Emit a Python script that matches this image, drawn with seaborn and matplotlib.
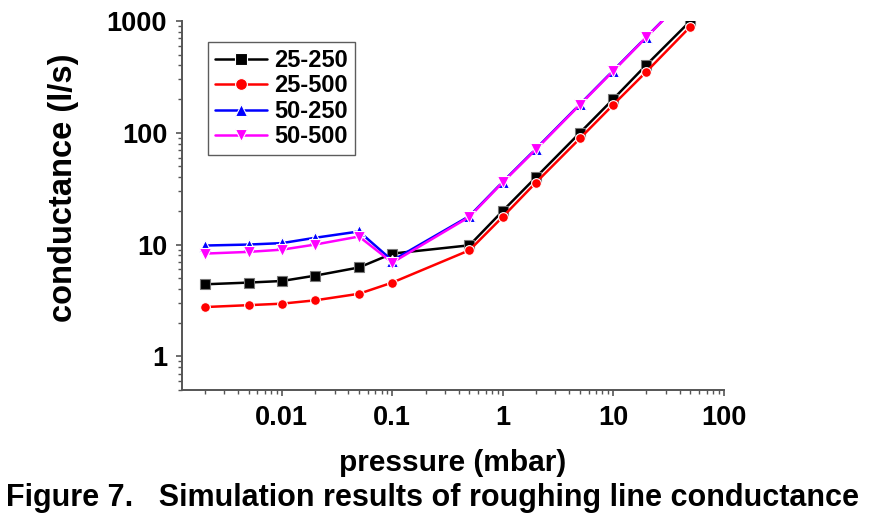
import numpy as np
import pandas as pd
import matplotlib
matplotlib.use("Agg")
import matplotlib.pyplot as plt
import seaborn as sns
from matplotlib.ticker import LogLocator, NullFormatter, FixedLocator, FixedFormatter

# data
pressure = [0.002, 0.005, 0.01, 0.02, 0.05, 0.1, 0.5, 1, 2, 5, 10, 20, 50]
c_25_250 = [4.41, 4.57, 4.72, 5.27, 6.24, 8.3, 9.85, 20.0, 40.0, 100, 200, 405, 1000]
c_25_500 = [2.76, 2.87, 2.96, 3.17, 3.63, 4.57, 8.9, 17.7, 35.9, 89, 178, 352, 890]
c_50_250 = [9.8, 10.0, 10.3, 11.5, 13.1, 7.2, 18.0, 36.4, 72, 180, 360, 720, 1800]
c_50_500 = [8.3, 8.6, 9.0, 10.0, 11.8, 6.9, 17.7, 36.0, 71, 178, 356, 715, 1790]
series = ["25-250", "25-500", "50-250", "50-500"]

df = pd.concat([
    pd.DataFrame({"pressure": pressure, "conductance": vals, "run": name})
    for name, vals in zip(series, [c_25_250, c_25_500, c_50_250, c_50_500])
])

sns.set_style("white")
plt.rcParams["font.family"] = ["Liberation Sans", "DejaVu Sans"]
plt.rcParams["font.weight"] = "bold"
plt.rcParams["text.color"] = "black"
plt.rcParams["axes.labelcolor"] = "black"
plt.rcParams["xtick.labelcolor"] = "black"
plt.rcParams["ytick.labelcolor"] = "black"

fig = plt.figure(figsize=(8.83, 5.18), dpi=100)
ax = fig.add_axes([0.2058, 0.2471, 0.6137, 0.7124])

colors = {"25-250": "black", "25-500": "#ff0000", "50-250": "#0000ff", "50-500": "#ff00ff"}
markers = {"25-250": "s", "25-500": "o", "50-250": "^", "50-500": "v"}
msizes = {"25-250": 6.5, "25-500": 7, "50-250": 8.2, "50-500": 8.2}

sns.lineplot(data=df, x="pressure", y="conductance", hue="run", style="run",
             palette=colors, markers=markers, dashes=False, markersize=6,
             linewidth=1.8, markeredgewidth=0.8, ax=ax, legend=True)
for line, name in zip(ax.lines, series):
    line.set_markersize(msizes[name])
    if name == "25-250":
        line.set_markeredgecolor("#777777")

ax.set_xscale("log")
ax.set_yscale("log")
ax.set_xlim(0.00124, 100)
ax.set_ylim(0.5, 1000)

gray = "#555555"
for s in ["top", "right"]:
    ax.spines[s].set_visible(False)
for s in ["left", "bottom"]:
    ax.spines[s].set_color(gray)
    ax.spines[s].set_linewidth(1.4)

ax.xaxis.set_major_locator(FixedLocator([0.01, 0.1, 1, 10, 100]))
ax.xaxis.set_major_formatter(FixedFormatter(["0.01", "0.1", "1", "10", "100"]))
ax.yaxis.set_major_locator(FixedLocator([1, 10, 100, 1000]))
ax.yaxis.set_major_formatter(FixedFormatter(["1", "10", "100", "1000"]))
ax.xaxis.set_minor_locator(LogLocator(base=10, subs=np.arange(2, 10)))
ax.yaxis.set_minor_locator(LogLocator(base=10, subs=np.arange(2, 10)))
ax.xaxis.set_minor_formatter(NullFormatter())
ax.yaxis.set_minor_formatter(NullFormatter())
ax.tick_params(which="major", direction="out", length=4.5, width=1.2, color=gray,
               labelsize=19.5, labelcolor="black", pad=6, bottom=True, left=True)
ax.tick_params(which="minor", direction="out", length=2.8, width=1.0, color=gray,
               bottom=True, left=True)

ax.set_xlabel("pressure (mbar)", fontsize=21.5, fontweight="bold", va="top", color="black")
ax.set_ylabel("conductance (l/s)", fontsize=23.5, fontweight="bold", color="black")
ax.xaxis.set_label_coords(0.5, -0.16)
ax.yaxis.set_label_coords(-0.19, 0.547)

leg = ax.legend(loc="upper left", bbox_to_anchor=(0.0485, 0.943), fontsize=17,
                handlelength=2.2, frameon=True, fancybox=False, borderpad=0.3,
                labelspacing=0.1, handletextpad=0.3, borderaxespad=0, title=None)
leg.get_frame().set_edgecolor("#333333")
leg.get_frame().set_linewidth(1.0)
for t in leg.get_texts():
    t.set_fontweight("bold")
    t.set_color("black")
for h in leg.legend_handles:
    h.set_markersize(8.5)

fig.text(0.007, 0.039, "Figure 7.   Simulation results of roughing line conductance",
         fontsize=22, fontweight="bold", va="center", ha="left", color="black")

fig.savefig("out.png", dpi=100)
